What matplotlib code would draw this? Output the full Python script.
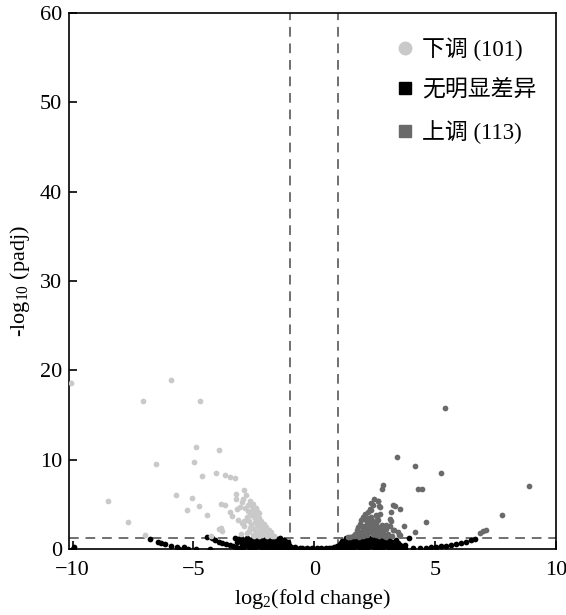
import matplotlib
matplotlib.use("Agg")
import matplotlib.pyplot as plt
from matplotlib.lines import Line2D

# ---------------- data (log2 fold change, -log10 padj) ----------------
down_pts = [
    (-10.07, 18.6), (-5.92, 18.96), (-7.09, 16.6), (-4.72, 16.6),
    (-6.53, 9.5), (-4.97, 9.8), (-8.53, 5.36), (-5.74, 6.07), (-5.05, 5.77),
    (-5.26, 4.4), (-7.71, 3.0), (-7.02, 1.56), (-4.88, 11.4), (-3.93, 11.1),
    (-4.66, 8.2), (-4.06, 8.5), (-3.68, 8.27), (-3.48, 8.08), (-3.26, 7.93),
    (-4.76, 4.88), (-4.45, 3.87), (-3.84, 5.1), (-3.71, 4.99), (-3.5, 4.13),
    (-3.24, 6.2), (-3.25, 5.6), (-2.89, 6.67), (-2.84, 6.1), (-2.93, 5.6),
    (-2.98, 5.3), (-3.06, 4.7), (-2.66, 5.44), (-3.86, 2.38), (-4.28, 1.49),
    (-3.14, 3.24), (-3.0, 2.98), (-2.89, 3.13), (-3.93, 2.27), (-3.83, 2.0),
    (-2.59, 4.88), (-2.52, 4.55), (-2.41, 4.6), (-2.36, 4.28), (-2.64, 3.83),
    (-2.51, 3.6), (-2.38, 3.24), (-2.27, 2.87), (-2.18, 2.5), (-2.11, 2.0),
    (-2.01, 1.75), (-1.93, 1.93), (-1.83, 1.68), (-2.45, 3.9), (-2.3, 3.5),
    (-2.2, 3.1), (-2.45, 3.0), (-2.35, 2.6), (-2.6, 2.7), (-2.25, 2.2),
    (-2.5, 2.3), (-2.4, 1.9), (-2.15, 1.6), (-2.7, 2.0), (-2.8, 3.6),
    (-2.75, 4.3), (-2.62, 4.2), (-2.05, 2.2), (-1.95, 1.5), (-1.75, 1.45),
    (-1.65, 1.5), (-2.55, 1.6), (-2.3, 1.5), (-2.0, 2.5), (-2.3, 4.0),
    (-2.7, 3.2), (-2.9, 2.6), (-2.55, 5.1), (-2.75, 5.0), (-2.85, 4.6),
    (-3.2, 4.5), (-3.4, 3.7), (-2.1, 2.8), (-1.88, 2.2), (-2.2, 1.85),
    (-2.65, 2.35), (-2.8, 1.8), (-3.05, 1.7), (-2.48, 1.45), (-1.8, 1.95),
]

flat_pts = [
    (-10.0, 0.05), (-9.95, 0.3),
    (-6.79, 1.12), (-6.47, 0.82), (-6.33, 0.67), (-6.17, 0.53), (-5.94, 0.41),
    (-5.69, 0.26), (-5.38, 0.2), (-5.6, 0.03), (-5.24, 0.05), (-4.9, 0.04),
    (-4.3, 0.03),
    (-4.42, 1.4), (-4.25, 1.2), (-4.1, 1.0), (-3.95, 0.86), (-3.8, 0.72),
    (-3.65, 0.6), (-3.5, 0.5), (-3.38, 0.38), (-3.25, 0.28), (-3.1, 0.18),
    (-2.95, 0.1),
    (-3.3, 1.25), (-3.15, 1.1), (-3.2, 0.75), (-3.05, 1.25), (-3.0, 0.7),
    (-2.9, 1.0), (-2.85, 0.45), (-2.8, 1.25), (-2.75, 0.75), (-2.7, 0.2),
    (-2.65, 1.05), (-2.6, 0.5), (-2.55, 1.25), (-2.5, 0.8), (-2.45, 0.25),
    (-2.4, 1.05), (-2.35, 0.55), (-2.3, 1.28), (-2.25, 0.85), (-2.2, 0.3),
    (-2.15, 1.1), (-2.1, 0.6), (-2.05, 0.1), (-2.0, 1.25), (-1.95, 0.85),
    (-1.9, 0.4), (-1.85, 1.1), (-1.8, 0.65), (-1.75, 0.15), (-1.7, 1.25),
    (-1.65, 0.9), (-1.6, 0.45), (-1.55, 1.1), (-1.5, 0.7), (-1.45, 0.2),
    (-1.4, 1.2), (-1.35, 0.85), (-1.3, 0.45), (-1.25, 1.0), (-1.2, 0.65),
    (-1.15, 0.25), (-1.1, 0.75), (-1.05, 0.45), (-1.0, 0.15), (-0.95, 0.3),
    (-2.5, 0.05), (-1.6, 0.05), (-1.25, 0.05),
    (-3.1, 0.95), (-2.95, 0.55), (-2.7, 0.95), (-2.55, 0.6), (-2.45, 1.0),
    (-2.3, 0.35), (-2.2, 0.95), (-2.05, 0.65), (-1.95, 0.25), (-1.9, 0.95),
    (-1.75, 0.6), (-1.6, 1.0), (-1.45, 0.55), (-1.35, 0.25), (-1.2, 0.9),
    (-2.85, 0.85), (-2.6, 0.25), (-2.35, 0.8), (-2.1, 0.35), (-1.85, 0.45),
    (-1.55, 0.3), (-1.3, 0.7), (-1.1, 0.45), (-3.0, 0.35), (-1.75, 1.0),
    (-0.9, 0.1), (-0.8, 0.2), (-0.7, 0.05), (-0.6, 0.15), (-0.5, 0.1),
    (-0.4, 0.05), (-0.3, 0.15), (-0.2, 0.05), (-0.1, 0.1), (0.0, 0.05),
    (0.1, 0.12), (0.2, 0.05), (0.3, 0.15), (0.4, 0.05), (0.5, 0.1),
    (0.6, 0.18), (0.7, 0.08), (0.8, 0.25), (0.9, 0.1),
    (0.95, 0.35), (1.0, 0.15), (1.05, 0.6), (1.1, 0.3), (1.15, 0.9),
    (1.2, 0.5), (1.25, 0.1), (1.3, 1.2), (1.35, 0.75), (1.4, 0.35),
    (1.5, 1.05), (1.55, 0.6), (1.6, 0.15), (1.65, 1.25), (1.7, 0.85),
    (1.75, 0.4), (1.8, 1.1), (1.85, 0.65), (1.9, 0.1), (1.95, 1.25),
    (2.0, 0.85), (2.05, 0.4), (2.1, 1.1), (2.15, 0.65), (2.2, 0.15),
    (2.25, 1.25), (2.3, 0.85), (2.35, 0.4), (2.4, 1.05), (2.45, 0.7),
    (2.5, 0.15), (2.55, 1.2), (2.6, 0.8), (2.65, 0.4), (2.7, 1.05),
    (2.75, 0.65), (2.8, 0.15), (2.85, 1.2), (2.9, 0.8), (2.95, 0.4),
    (3.0, 1.05), (3.05, 0.6), (3.1, 0.15), (3.15, 0.95), (3.2, 0.5),
    (1.25, 0.8), (1.45, 0.9), (1.6, 0.6), (1.75, 1.0), (1.9, 0.45),
    (2.05, 1.0), (2.2, 0.55), (2.35, 1.0), (2.5, 0.45), (2.65, 0.95),
    (2.8, 0.5), (2.95, 1.0), (3.1, 0.75), (1.4, 0.15), (2.0, 0.2),
    (2.6, 0.15), (3.25, 0.25), (3.4, 1.0), (3.5, 0.15), (1.1, 0.65),
    (3.3, 0.8), (3.35, 0.3), (3.45, 0.65), (3.55, 0.45), (3.65, 0.2),
    (3.75, 0.45), (3.93, 1.2), (3.75, 0.1), (4.1, 0.08),
    (4.37, 0.15), (4.64, 0.12), (4.85, 0.26), (5.05, 0.22), (5.26, 0.34),
    (5.47, 0.37), (5.67, 0.45), (5.88, 0.56), (6.09, 0.7), (6.29, 0.82),
    (6.5, 1.0), (6.65, 1.15),
]

up_pts = [
    (5.4, 15.75), (3.43, 10.36), (4.19, 9.3), (5.26, 8.53), (8.9, 7.04),
    (4.3, 6.7), (4.46, 6.78), (2.85, 7.2), (2.8, 6.78), (2.48, 5.66),
    (2.64, 5.4), (3.26, 4.95), (3.36, 4.8), (3.57, 4.55), (4.64, 3.05),
    (7.77, 3.8), (4.19, 1.93), (3.72, 2.57), (3.19, 4.17), (3.13, 3.43),
    (2.71, 4.73), (2.57, 3.8), (2.64, 3.24), (2.81, 2.68), (2.99, 2.3),
    (2.85, 1.93), (3.06, 1.68), (3.31, 2.2), (2.44, 4.92), (2.37, 4.36),
    (2.3, 4.55), (2.23, 4.17), (2.1, 3.99), (2.02, 3.61), (2.16, 3.61),
    (1.95, 3.24), (1.89, 2.87), (1.82, 2.49), (1.75, 2.12), (1.68, 1.75),
    (2.37, 5.17), (2.62, 5.36), (2.69, 4.8), (2.6, 3.61), (2.71, 3.99),
    (3.17, 3.13), (2.99, 2.76), (2.53, 3.05), (2.67, 2.49), (2.51, 2.2),
    (3.47, 1.93), (3.26, 2.2), (2.89, 2.38), (2.78, 1.93), (2.96, 1.37),
    (3.54, 1.56), (6.86, 1.82), (6.98, 2.0), (7.1, 2.2),
    (1.6, 1.5), (1.7, 1.45), (1.8, 1.6), (1.9, 1.9), (2.0, 2.2), (2.1, 2.6),
    (2.2, 2.9), (2.3, 3.3), (1.85, 1.4), (1.95, 1.6), (2.05, 1.8),
    (2.15, 2.1), (2.25, 2.4), (2.35, 2.8), (2.45, 3.2), (2.0, 1.45),
    (2.2, 1.6), (2.3, 1.9), (2.4, 2.2), (2.5, 2.6), (2.55, 1.55),
    (2.45, 1.7), (2.6, 2.0), (2.7, 2.3), (1.5, 1.4), (1.4, 1.35),
    (2.7, 1.5), (2.9, 1.45), (3.2, 1.5), (3.5, 1.6), (3.15, 2.6),
    (2.4, 2.5), (2.1, 2.3), (2.25, 2.75), (2.15, 3.3), (2.35, 3.55),
    (1.78, 1.85), (1.98, 2.65), (2.12, 1.55), (2.55, 2.95), (2.85, 2.2),
]

# ---------------- style ----------------
c_down = "#c9c9c9"
c_flat = "#000000"
c_up = "#6a6a6a"
serif = ["Liberation Serif", "Noto Sans CJK SC", "DejaVu Sans"]
plt.rcParams["font.family"] = serif
plt.rcParams["mathtext.fontset"] = "custom"
plt.rcParams["mathtext.rm"] = "Liberation Serif"

fig = plt.figure(figsize=(5.66, 6.15), dpi=100)
ax = fig.add_axes([0.122, 0.107, 0.860, 0.872])

s = 17
for pts, col in ((flat_pts, c_flat), (down_pts, c_down), (up_pts, c_up)):
    ax.scatter([p[0] for p in pts], [p[1] for p in pts], s=s, c=col,
               linewidths=0, zorder=3)

dash = dict(color="#707070", lw=1.4, ls=(0, (5, 3.5)), zorder=2)
ax.axvline(-1, **dash)
ax.axvline(1, **dash)
ax.axhline(1.301, **dash)

ax.set_xlim(-10.15, 10.0)
ax.set_ylim(0, 60)
ax.set_xticks([-10, -5, 0, 5, 10])
ax.set_xticklabels(["\u221210", "\u22125", "0", "5", "10"])
ax.set_yticks([0, 10, 20, 30, 40, 50, 60])
ax.tick_params(direction="in", length=6, width=1.2, labelsize=16)
ax.tick_params(axis="x", pad=8.5)
ax.tick_params(axis="y", pad=5)
for sp in ax.spines.values():
    sp.set_linewidth(1.2)

ax.set_xlabel(r"$\mathregular{log_2}$(fold change)", fontsize=16, labelpad=5)
ax.set_ylabel(r"-$\mathregular{log_{10}}$ (padj)", fontsize=16, labelpad=6)

handles = [
    Line2D([], [], ls="", marker="o", color=c_down, markersize=9),
    Line2D([], [], ls="", marker="s", color=c_flat, markersize=8),
    Line2D([], [], ls="", marker="s", color=c_up, markersize=8),
]
labels = ["下调 (101)", "无明显差异", "上调 (113)"]
ax.legend(handles, labels, loc="upper left", bbox_to_anchor=(0.65, 0.972),
          frameon=False, fontsize=16.5, labelspacing=0.82, handletextpad=0.3,
          handlelength=0.9, borderaxespad=0.0)

fig.savefig("out.png", dpi=100)
